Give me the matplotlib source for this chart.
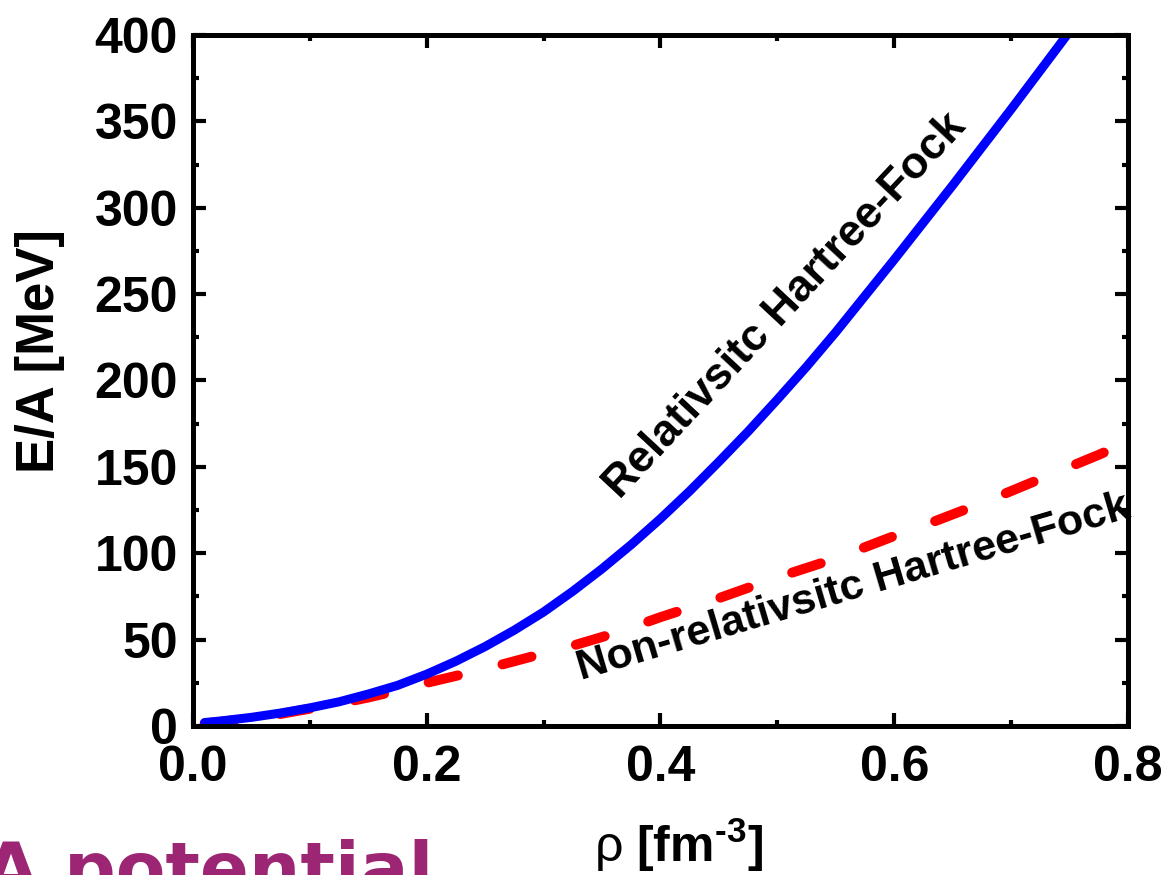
import numpy as np
import matplotlib
matplotlib.use('Agg')
import matplotlib.pyplot as plt
from matplotlib.ticker import MultipleLocator

plt.rcParams['font.family'] = ['Liberation Sans', 'DejaVu Sans']
plt.rcParams['mathtext.fontset'] = 'custom'
plt.rcParams['mathtext.rm'] = 'Liberation Sans'
plt.rcParams['mathtext.bf'] = 'Liberation Sans:bold'
plt.rcParams['axes.unicode_minus'] = False

# density [fm^-3] and energy per nucleon [MeV], relativistic HF
rho_rhf = [0.01, 0.025, 0.05, 0.075, 0.10, 0.125, 0.15, 0.175, 0.20, 0.225,
           0.25, 0.275, 0.30, 0.325, 0.35, 0.375, 0.40, 0.425, 0.45, 0.475,
           0.50, 0.525, 0.55, 0.575, 0.60, 0.625, 0.65, 0.675, 0.70, 0.725,
           0.75]
ea_rhf = [2.0, 3.0, 5.0, 7.5, 10.5, 14.0, 18.5, 23.5, 30.0, 37.5,
          46.0, 55.5, 66.0, 78.0, 91.0, 105.0, 120.0, 136.0, 153.0, 170.5,
          189.0, 208.0, 228.0, 249.0, 270.0, 291.5, 313.0, 335.0, 357.0, 379.5,
          402.0]

# non-relativistic HF
rho_nrhf = [0.01, 0.025, 0.05, 0.075, 0.10, 0.125, 0.15, 0.175, 0.20, 0.225,
            0.25, 0.275, 0.30, 0.325, 0.35, 0.375, 0.40, 0.425, 0.45, 0.475,
            0.50, 0.525, 0.55, 0.575, 0.60, 0.625, 0.65, 0.675, 0.70, 0.725,
            0.75, 0.775, 0.80]
ea_nrhf = [1.5, 2.5, 4.5, 7.0, 10.0, 13.0, 16.5, 20.5, 25.0, 29.0,
           33.0, 37.5, 42.0, 46.5, 51.5, 57.0, 63.0, 68.5, 74.0, 80.0,
           86.0, 91.5, 97.0, 103.5, 110.0, 116.0, 122.5, 129.0, 136.0, 143.0,
           150.0, 157.0, 164.5]

fig = plt.figure(figsize=(11.66, 8.75), dpi=100)
ax = fig.add_axes([0.1655, 0.1703, 0.8019, 0.7897])

ax.plot(rho_nrhf, ea_nrhf, color='#ff0000', lw=7.2, dashes=(3.0, 4.6),
        dash_capstyle='round', solid_capstyle='round')
ax.plot(rho_rhf, ea_rhf, color='#0000ff', lw=6.5, solid_capstyle='round')

ax.set_xlim(0.0, 0.8)
ax.set_ylim(0, 400)
ax.xaxis.set_major_locator(MultipleLocator(0.2))
ax.xaxis.set_minor_locator(MultipleLocator(0.1))
ax.yaxis.set_major_locator(MultipleLocator(50))
ax.yaxis.set_minor_locator(MultipleLocator(25))
ax.xaxis.set_major_formatter(plt.FormatStrFormatter('%.1f'))

for s in ax.spines.values():
    s.set_linewidth(3.6)
ax.tick_params(which='both', direction='in', top=True, right=True, width=3.0)
ax.tick_params(which='major', length=9.5)
ax.tick_params(which='minor', length=4.5)
ax.tick_params(axis='x', which='major', pad=14, labelsize=36)
ax.tick_params(axis='y', which='major', pad=11, labelsize=36)
for lab in ax.get_xticklabels() + ax.get_yticklabels():
    lab.set_fontweight('bold')

ax.set_ylabel('E/A [MeV]', fontsize=38, fontweight='bold')
ax.yaxis.set_label_coords(-0.137, 0.543)
# hyphen (U+2010) in the exponent instead of the mathtext minus sign
ax.set_xlabel('$\\mathrm{\\rho}$ $\\mathbf{[fm}^{\\mathbf{\u20103}}\\mathbf{]}$',
              fontsize=36)
ax.xaxis.set_label_coords(0.519, -0.13)

ax.text(0.507, 243, 'Relativsitc Hartree-Fock', rotation=47, fontsize=32,
        fontweight='bold', ha='center', va='center', rotation_mode='anchor')
ax.text(0.565, 80, 'Non-relativsitc Hartree-Fock', rotation=16.5, fontsize=31,
        fontweight='bold', ha='center', va='center', rotation_mode='anchor')

fig.text(-0.015, -0.021, 'A potential', fontsize=52, fontweight='bold',
         family='DejaVu Sans', color='#9c2673', ha='left', va='baseline')

fig.savefig('out.png', dpi=100)
